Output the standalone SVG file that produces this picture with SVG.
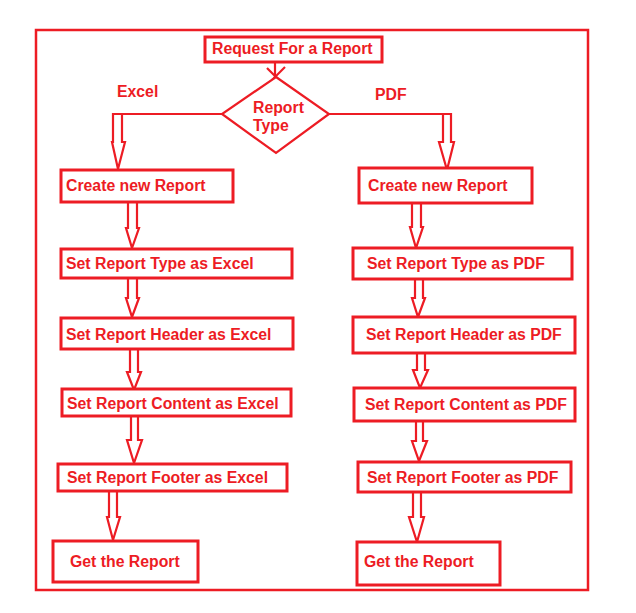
<svg xmlns="http://www.w3.org/2000/svg" width="636" height="613" viewBox="0 0 636 613">
<style>
.box{fill:#fff;stroke:#ED1C24;stroke-width:3}
.t{font-family:"Liberation Sans",Arial,sans-serif;font-weight:bold;font-size:15.8px;fill:#ED1C24}
.ln{fill:none;stroke:#ED1C24;stroke-width:2.2;stroke-linejoin:miter}
</style>
<rect x="0" y="0" width="636" height="613" fill="#fff"/>
<rect id="frame" x="36" y="30" width="552" height="560" fill="none" stroke="#ED1C24" stroke-width="2.5"/>
<g id="connectors">
<line class="ln" x1="275" y1="62" x2="275" y2="78"/>
<line class="ln" x1="267" y1="68" x2="279" y2="80"/>
<line class="ln" x1="285" y1="67" x2="272" y2="80"/>
<polyline class="ln" points="222,114 113,114 113,142 112,142 118,169 125,142 122,142 122,114"/>
<polyline class="ln" points="329,114 451,114 451,142 454,142 447,170 439,142 443,142 443,114"/>
<polyline class="ln" points="128,202 128,228 126,228 132,248 139,228 137,228 137,202"/>
<polyline class="ln" points="128,278 128,298 126,298 132,317 139,298 137,298 137,278"/>
<polyline class="ln" points="130,349 130,372 127,372 134,390 141,372 138,372 138,349"/>
<polyline class="ln" points="131,416 131,440 127,440 134,463 142,440 138,440 138,416"/>
<polyline class="ln" points="109,491 109,517 107,517 113,540 120,517 117,517 117,491"/>
<polyline class="ln" points="412,203 412,227 410,227 416,248 423,227 421,227 421,203"/>
<polyline class="ln" points="415,279 415,298 412,298 418,317 425,298 423,298 423,279"/>
<polyline class="ln" points="417,353 417,370 413,370 420,388 428,370 425,370 425,353"/>
<polyline class="ln" points="416,421 416,441 412,441 419,461 427,441 423,441 423,421"/>
<polyline class="ln" points="413,492 413,517 409,517 417,542 424,517 421,517 421,492"/>
</g>
<g id="n-request"><rect class="box" x="205" y="37" width="177" height="25"/><text class="t" x="212" y="54">Request For a Report</text></g>
<g id="n-type"><polygon points="276,77 329,114 276,153 222,114" fill="#fff" stroke="#ED1C24" stroke-width="2.2"/><text class="t" x="253" y="113">Report</text><text class="t" x="253" y="131">Type</text></g>
<g id="l-excel"><text class="t" x="117" y="97">Excel</text></g>
<g id="l-pdf"><text class="t" x="375" y="100">PDF</text></g>
<g id="n-e1"><rect class="box" x="61" y="170" width="172" height="32"/><text class="t" x="66" y="191">Create new Report</text></g>
<g id="n-e2"><rect class="box" x="61" y="249" width="231" height="29"/><text class="t" x="66" y="269">Set Report Type as Excel</text></g>
<g id="n-e3"><rect class="box" x="61" y="318" width="232" height="31"/><text class="t" x="66" y="340">Set Report Header as Excel</text></g>
<g id="n-e4"><rect class="box" x="62" y="389" width="229" height="27"/><text class="t" x="67" y="409">Set Report Content as Excel</text></g>
<g id="n-e5"><rect class="box" x="58" y="464" width="229" height="27"/><text class="t" x="67" y="483">Set Report Footer as Excel</text></g>
<g id="n-e6"><rect class="box" x="53" y="541" width="145" height="41"/><text class="t" x="70" y="567">Get the Report</text></g>
<g id="n-p1"><rect class="box" x="359" y="168" width="173" height="35"/><text class="t" x="368" y="191">Create new Report</text></g>
<g id="n-p2"><rect class="box" x="353" y="248" width="219" height="31"/><text class="t" x="367" y="269">Set Report Type as PDF</text></g>
<g id="n-p3"><rect class="box" x="353" y="317" width="222" height="36"/><text class="t" x="366" y="340">Set Report Header as PDF</text></g>
<g id="n-p4"><rect class="box" x="354" y="388" width="221" height="33"/><text class="t" x="365" y="410">Set Report Content as PDF</text></g>
<g id="n-p5"><rect class="box" x="358" y="462" width="213" height="30"/><text class="t" x="367" y="483">Set Report Footer as PDF</text></g>
<g id="n-p6"><rect class="box" x="357" y="542" width="143" height="43"/><text class="t" x="364" y="567">Get the Report</text></g>
</svg>
